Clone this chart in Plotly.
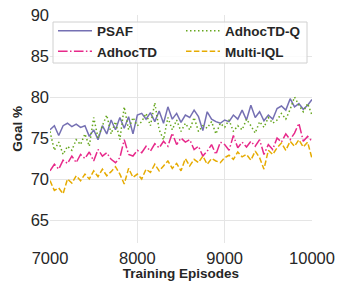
import plotly.graph_objects as go

episodes = list(range(7000, 10001, 50))

psaf = [76.0, 76.5, 75.3, 76.5, 76.8, 76.4, 76.7, 76.3, 76.5, 75.2,
        76.0, 74.8, 76.5, 75.5, 77.2, 76.0, 77.5, 76.2, 77.6, 75.5,
        77.8, 78.0, 77.3, 78.1, 77.0, 78.3, 76.8, 78.8, 77.3, 78.0,
        76.9, 77.8, 77.5, 78.4, 77.6, 75.9, 78.2, 77.3, 77.0, 76.8,
        77.2, 77.0, 77.8, 77.3, 78.4, 77.2, 79.0, 77.5, 78.2, 77.1,
        77.8, 77.3, 78.6, 78.9, 78.4, 79.8, 78.8, 79.2, 78.5, 79.0, 79.7]

adhoctd = [71.0, 71.8, 71.2, 72.3, 71.9, 72.8, 72.0, 73.0, 72.5, 73.3,
           72.2, 73.6, 72.8, 73.2, 72.4, 72.0, 72.6, 74.8, 73.0, 72.8,
           73.5, 73.2, 74.0, 73.4, 74.3, 73.8, 74.6, 74.0, 75.6, 74.2,
           75.0, 74.5, 74.8, 73.6, 74.0, 72.8, 73.4, 74.2, 73.0, 74.5,
           74.2, 73.5, 75.3, 73.8, 74.5, 73.9, 74.6, 74.0, 74.8, 73.0,
           74.2, 73.6, 75.0, 74.5, 75.5, 74.8, 75.6, 76.8, 74.6, 75.2, 74.6]

adhoctd_q = [75.8, 73.5, 74.5, 73.0, 74.0, 73.5, 74.8, 74.2, 75.5, 74.0,
             77.5, 75.0, 76.5, 77.8, 75.5, 77.0, 74.8, 78.8, 76.0, 77.5,
             76.5, 77.0, 78.0, 76.5, 79.3, 76.0, 74.8, 77.5, 76.0, 77.2,
             75.8, 76.8, 76.0, 77.5, 75.8, 76.5, 76.2, 77.0, 75.5, 76.8,
             76.3, 77.2, 75.8, 76.5, 76.0, 77.3, 76.5, 75.6, 77.0, 76.3,
             77.5, 76.8, 77.2, 78.0, 77.3, 78.5, 80.0, 79.0, 78.2, 79.2, 77.8]

multi_iql = [69.8, 68.6, 68.9, 68.2, 70.0, 69.5, 70.4, 69.8, 70.6, 70.0,
             71.0, 70.3, 71.2, 70.4, 70.9, 71.5, 70.6, 69.4, 71.3, 70.2,
             70.6, 70.0, 71.2, 70.8, 71.8, 71.0, 71.6, 72.2, 71.3, 71.9,
             71.0, 72.5, 71.6, 72.4, 72.0, 72.8, 71.8, 72.5, 72.2, 72.0,
             72.6, 72.9, 72.4, 73.3, 72.7, 73.0, 72.3, 73.4, 72.6, 71.2,
             73.5, 73.0, 73.8, 74.4, 73.5, 74.6, 74.0, 74.8, 73.9, 74.5, 72.5]

x_ticks = [7000, 8000, 9000, 10000]
x_tick_labels = ["7000", "8000", "9000", "10000"]
y_ticks = [65, 70, 75, 80, 85, 90]

series = [
    ("PSAF", psaf, "#7570b3", "solid", "legend"),
    ("AdhocTD", adhoctd, "#e7298a", "9.6px,2.4px,1.5px,2.4px", "legend"),
    ("AdhocTD-Q", adhoctd_q, "#66a61e", "1.5px,2.5px", "legend2"),
    ("Multi-IQL", multi_iql, "#e6ab02", "5.5px,2.4px", "legend2"),
]

fig = go.Figure()
for name, vals, color, dash, leg in series:
    fig.add_trace(go.Scatter(
        x=episodes, y=vals, mode="lines", name=name,
        line=dict(color=color, width=1.5, dash=dash),
        legend=leg,
    ))

font_family = "Liberation Sans, Arial, sans-serif"
W, H = 346, 291
ml, mr, mt, mb = 50, 34, 15, 48
pw, ph = W - ml - mr, H - mt - mb


def px_x(p):
    return (p - ml) / pw


def px_y(p):
    return (H - mb - p) / ph


legend_font = dict(size=13.5, family=font_family, color="#262626", weight="bold")
legend_common = dict(
    orientation="v", xanchor="left", yanchor="top",
    itemwidth=34, bgcolor="rgba(0,0,0,0)", borderwidth=0,
    font=legend_font, tracegroupgap=0,
)

fig.add_shape(
    type="rect", xref="paper", yref="paper",
    x0=px_x(53), x1=px_x(307), y0=px_y(63), y1=px_y(22),
    line=dict(color="#d0d0d0", width=1), fillcolor="rgba(255,255,255,0.85)",
    layer="above",
)

fig.update_layout(
    width=W, height=H,
    margin=dict(l=ml, r=mr, t=mt, b=mb, autoexpand=False),
    paper_bgcolor="white", plot_bgcolor="white",
    font=dict(family=font_family, color="#262626"),
    showlegend=True,
    legend=dict(x=px_x(53), y=px_y(15.5), **legend_common),
    legend2=dict(x=px_x(181), y=px_y(15.5), **legend_common),
    xaxis=dict(
        range=[7000, 10000], tickvals=x_ticks, ticktext=x_tick_labels, showgrid=True,
        gridcolor="#e5e5e5", gridwidth=1.2, zeroline=False, showline=False,
        tickfont=dict(size=16.5), ticks="", automargin=False, ticklabelstandoff=3,
        title=dict(text="Training Episodes", font=dict(size=13.5, weight="bold"), standoff=0),
    ),
    yaxis=dict(
        range=[62.2, 90], tickvals=y_ticks, showgrid=True,
        gridcolor="#e5e5e5", gridwidth=1.2, zeroline=False, showline=False,
        tickfont=dict(size=16.5), ticks="", automargin=False,
        title=dict(text="Goal %", font=dict(size=13.5, weight="bold"), standoff=4),
    ),
)

fig.write_html("out.html", config={"displayModeBar": False},
               post_script="document.body.style.margin='0';")
